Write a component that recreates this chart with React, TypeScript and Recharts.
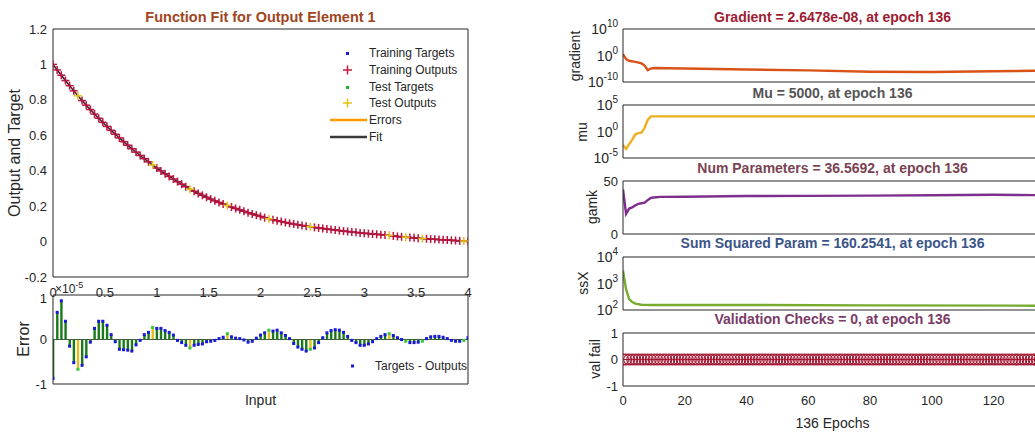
import {
  ComposedChart,
  LineChart,
  Line,
  Bar,
  Cell,
  XAxis,
  YAxis,
  ReferenceLine,
} from 'recharts'

// ---- function fit (left) ----
const inputStep = 0.04
const outputs = [
  1.0, 0.969, 0.939, 0.909, 0.88, 0.851, 0.823, 0.796, 0.77, 0.745,
  0.72, 0.696, 0.673, 0.65, 0.628, 0.606, 0.585, 0.564, 0.544, 0.524,
  0.505, 0.486, 0.468, 0.45, 0.432, 0.415, 0.399, 0.383, 0.368, 0.353,
  0.338, 0.324, 0.31, 0.296, 0.284, 0.272, 0.261, 0.25, 0.24, 0.23,
  0.221, 0.212, 0.204, 0.195, 0.187, 0.179, 0.171, 0.163, 0.156, 0.149,
  0.142, 0.135, 0.129, 0.123, 0.118, 0.113, 0.108, 0.103, 0.099, 0.095,
  0.091, 0.087, 0.084, 0.08, 0.077, 0.074, 0.071, 0.068, 0.065, 0.062,
  0.059, 0.057, 0.054, 0.052, 0.049, 0.047, 0.045, 0.043, 0.041, 0.039,
  0.037, 0.035, 0.032, 0.029, 0.027, 0.025, 0.023, 0.021, 0.019, 0.017,
  0.016, 0.014, 0.013, 0.011, 0.01, 0.009, 0.007, 0.006, 0.004, 0.003,
  0.001,
]
// errors in units of 1e-5
const errors = [
  -0.88, 0.61, 0.87, 0.41, -0.15, -0.52, -0.67, -0.58, -0.39, -0.06,
  0.25, 0.41, 0.41, 0.32, 0.11, -0.05, -0.22, -0.23, -0.24, -0.26,
  -0.12, -0.02, 0.11, 0.16, 0.27, 0.25, 0.25, 0.2, 0.16, 0.1,
  -0.02, -0.07, -0.13, -0.19, -0.13, -0.11, -0.1, -0.05, -0.04, -0.02,
  0.02, 0.05, 0.13, 0.06, 0.03, 0.02, -0.01, -0.06, -0.04, 0.03,
  0.1, 0.15, 0.21, 0.19, 0.21, 0.15, 0.09, 0.02, -0.09, -0.17,
  -0.22, -0.26, -0.22, -0.19, -0.07, 0.04, 0.15, 0.2, 0.22, 0.21,
  0.16, 0.07, -0.02, -0.07, -0.13, -0.13, -0.1, -0.05, 0.02, 0.07,
  0.11, 0.13, 0.09, 0.04, 0.0, -0.04, -0.07, -0.07, -0.06, -0.04,
  0.02, 0.06, 0.07, 0.07, 0.05, 0.02, -0.02, -0.04, -0.04, -0.02,
  0.04,
]
const testIdx = [6, 24, 33, 42, 52, 62, 81, 85, 89, 99]
const inputTicks = [0, 0.5, 1, 1.5, 2, 2.5, 3, 3.5, 4]
const fitTicks = [-0.2, 0, 0.2, 0.4, 0.6, 0.8, 1, 1.2]
const errTicks = [-1, 0, 1]

// ---- training state (right) ----
const gradEpochs = [0, 1, 2, 4, 5, 6, 7, 8, 9, 10, 20, 40, 60, 80, 100, 120, 136]
const gradValues = [3, 0.04, 0.01, 4e-3, 2e-3, 1e-3, 1.5e-4, 3e-6, 1.2e-5, 2e-5, 1.2e-5, 5e-6, 2.5e-6, 7e-7, 6e-7, 1.1e-6, 2e-6]
const muEpochs = [0, 1, 2, 3, 4, 5, 6, 7, 8, 9, 136]
const muValues = [3e-3, 5e-4, 4e-3, 3e-2, 0.3, 0.5, 0.6, 5, 150, 700, 700]
const gamkEpochs = [0, 1, 2, 3, 4, 5, 6, 7, 8, 9, 10, 12, 20, 40, 60, 80, 100, 120, 136]
const gamkValues = [42, 19, 24, 25, 27, 28.5, 29, 29.5, 32, 34, 34.5, 35, 35.2, 35.8, 36, 36.2, 36.5, 37, 36.6]
const ssxEpochs = [0, 1, 2, 3, 4, 6, 10, 40, 80, 136]
const ssxValues = [3100, 600, 260, 200, 175, 158, 155, 155, 150, 145]
const valFail = [
  0, 0, 0, 0, 0, 0, 0, 0, 0, 0, 0, 0, 0, 0, 0, 0, 0, 0, 0, 0,
  0, 0, 0, 0, 0, 0, 0, 0, 0, 0, 0, 0, 0, 0, 0, 0, 0, 0, 0, 0,
  0, 0, 0, 0, 0, 0, 0, 0, 0, 0, 0, 0, 0, 0, 0, 0, 0, 0, 0, 0,
  0, 0, 0, 0, 0, 0, 0, 0, 0, 0, 0, 0, 0, 0, 0, 0, 0, 0, 0, 0,
  0, 0, 0, 0, 0, 0, 0, 0, 0, 0, 0, 0, 0, 0, 0, 0, 0, 0, 0, 0,
  0, 0, 0, 0, 0, 0, 0, 0, 0, 0, 0, 0, 0, 0, 0, 0, 0, 0, 0, 0,
  0, 0, 0, 0, 0, 0, 0, 0, 0, 0, 0, 0, 0, 0, 0, 0, 0,
]
const epochTicks = [0, 20, 40, 60, 80, 100, 120]

const ink = '#262626'
const font = '"Liberation Sans", Arial, Helvetica, sans-serif'

const fitRows = outputs.map((out, i) => {
  const isTest = testIdx.includes(i)
  return {
    x: i * inputStep,
    out,
    train: isTest ? null : out,
    test: isTest ? out : null,
  }
})
const errRows = errors.map((err, i) => {
  const isTest = testIdx.includes(i)
  return {
    x: i * inputStep,
    err,
    isTest,
    trainErr: isTest ? null : err,
    testErr: isTest ? err : null,
  }
})
const zip = (xs: number[], ys: number[]) => xs.map((epoch, i) => ({ epoch, v: ys[i] }))

const plusDot = (color: string) => (props: any) => {
  const { cx, cy, value, index } = props
  if (value == null || cx == null || cy == null) return <g key={index} />
  return (
    <g key={index}>
      <line x1={cx - 4} y1={cy} x2={cx + 4} y2={cy} stroke={color} strokeWidth={1.5} />
      <line x1={cx} y1={cy - 4} x2={cx} y2={cy + 4} stroke={color} strokeWidth={1.5} />
    </g>
  )
}

const squareDot = (color: string, s: number) => (props: any) => {
  const { cx, cy, value, index } = props
  if (value == null || cx == null || cy == null) return <g key={index} />
  return <rect key={index} x={cx - s / 2} y={cy - s / 2} width={s} height={s} fill={color} />
}

function PowTick(props: any) {
  const { x, y, payload } = props
  const p = Math.round(Math.log10(payload.value))
  return (
    <text x={x} y={y + 5} textAnchor="end" fontSize={14} fill={ink} fontFamily={font}>
      10<tspan dy={-7} fontSize={10}>{p}</tspan>
    </text>
  )
}

const tickFont = { fontSize: 13, fill: ink, fontFamily: font }

// Inward tick marks on all four sides plus the closing box (MATLAB style).
// Mirrored axes need a non-zero size to be drawn, and a series bound to them.
function boxAxes(xDomain: [number, number], xTicks: number[], yDomain: [number, number], yTicks: number[], ySc: 'log' | 'linear', xKey: string, yKey: string) {
  return [
    <XAxis key="bx" xAxisId="bm" dataKey={xKey} orientation="bottom" mirror type="number" domain={xDomain} ticks={xTicks} height={1} tickSize={4} axisLine={false} stroke={ink} tick={false} allowDataOverflow />,
    <XAxis key="tx" xAxisId="top" dataKey={xKey} orientation="top" mirror type="number" domain={xDomain} ticks={xTicks} height={1} tickSize={4} stroke={ink} tick={false} allowDataOverflow />,
    <YAxis key="ly" yAxisId="lm" orientation="left" mirror type="number" scale={ySc} domain={yDomain} ticks={yTicks} width={1} tickSize={4} axisLine={false} stroke={ink} tick={false} allowDataOverflow />,
    <YAxis key="ry" yAxisId="right" orientation="right" mirror type="number" scale={ySc} domain={yDomain} ticks={yTicks} width={1} tickSize={4} stroke={ink} tick={false} allowDataOverflow />,
    <Line key="l1" xAxisId="bm" yAxisId="lm" dataKey={yKey} stroke="none" dot={false} activeDot={false} isAnimationActive={false} />,
    <Line key="l2" xAxisId="top" yAxisId="right" dataKey={yKey} stroke="none" dot={false} activeDot={false} isAnimationActive={false} />,
  ]
}

function Label({ x, y, children, size = 13, color = ink, bold = false, rotate = false }: any) {
  return (
    <div
      style={{
        position: 'absolute',
        left: x,
        top: y,
        transform: `translate(-50%, -50%)${rotate ? ' rotate(-90deg)' : ''}`,
        whiteSpace: 'nowrap',
        fontSize: size,
        fontWeight: bold ? 700 : 400,
        color,
        fontFamily: font,
        lineHeight: 1,
      }}
    >
      {children}
    </div>
  )
}

function LegendRow({ y, kind, color, text }: { y: number; kind: string; color: string; text: string }) {
  return (
    <div style={{ position: 'absolute', left: 326, top: y - 8, height: 16, display: 'flex', alignItems: 'center' }}>
      <svg width={42} height={16}>
        {kind === 'dot' && <rect x={20} y={7} width={3} height={3} fill={color} />}
        {kind === 'plus' && (
          <g stroke={color} strokeWidth={1.5}>
            <line x1={17} y1={8} x2={26} y2={8} />
            <line x1={21.5} y1={3.5} x2={21.5} y2={12.5} />
          </g>
        )}
        {kind === 'line' && <line x1={4} y1={8} x2={41} y2={8} stroke={color} strokeWidth={2.5} />}
      </svg>
      <span style={{ fontSize: 12, color: ink, fontFamily: font, marginLeft: 1 }}>{text}</span>
    </div>
  )
}

type PanelProps = {
  top: number
  data: { epoch: number; v: number }[]
  color: string
  log?: boolean
  domain: [number, number]
  ticks: number[]
  last?: boolean
  circles?: boolean
}

function StatePanel({ top, data, color, log, domain, ticks, last, circles }: PanelProps) {
  const bottomH = last ? 47 : 10
  return (
    <div style={{ position: 'absolute', left: 560, top: top - 10 }}>
      <LineChart width={490} height={10 + 53 + bottomH} data={data} margin={{ top: 10, right: 7, left: 0, bottom: 0 }}>
        <XAxis
          dataKey="epoch"
          type="number"
          domain={[0, 136]}
          ticks={epochTicks}
          height={bottomH}
          tickLine={false}
          tickSize={6}
          tickMargin={4}
          stroke={ink}
          tick={last ? tickFont : false}
          allowDataOverflow
        />
        <YAxis
          type="number"
          scale={log ? 'log' : 'linear'}
          domain={domain}
          ticks={ticks}
          width={63}
          tickLine={false}
          tickSize={5}
          tickMargin={0}
          stroke={ink}
          tick={log ? <PowTick /> : tickFont}
          allowDataOverflow
        />
        {boxAxes([0, 136], epochTicks, domain, ticks, log ? 'log' : 'linear', 'epoch', 'v')}
        <Line
          dataKey="v"
          type="linear"
          stroke={color}
          strokeWidth={circles ? 1 : 2.4}
          dot={circles ? { r: 5.5, stroke: color, fill: 'none', strokeWidth: 1.1 } : false}
          activeDot={false}
          isAnimationActive={false}
        />
      </LineChart>
    </div>
  )
}

export default function App() {
  return (
    <div
      style={{
        position: 'fixed',
        left: 0,
        top: 0,
        width: 1035,
        height: 433,
        overflow: 'hidden',
        background: '#fff',
        fontFamily: font,
      }}
    >
      {/* Function fit */}
      <div style={{ position: 'absolute', left: 0, top: 0 }}>
        <ComposedChart width={480} height={310} data={fitRows} margin={{ top: 29, right: 12, left: 0, bottom: 0 }}>
          <XAxis
            dataKey="x"
            type="number"
            domain={[0, 4]}
            ticks={inputTicks}
            height={33}
            tickLine={false}
            tickSize={6}
            tickMargin={5}
            stroke={ink}
            tick={tickFont}
            allowDataOverflow
          />
          <YAxis
            type="number"
            domain={[-0.2, 1.2]}
            ticks={fitTicks}
            width={53}
            tickLine={false}
            tickSize={6}
            tickMargin={0}
            stroke={ink}
            tick={tickFont}
            tickFormatter={(v: number) => String(Number(v.toFixed(1)))}
            allowDataOverflow
          />
          {boxAxes([0, 4], inputTicks, [-0.2, 1.2], fitTicks, 'linear', 'x', 'out')}
          <Line dataKey="out" stroke="none" dot={squareDot('#1a1ae0', 2)} activeDot={false} isAnimationActive={false} />
          <Line dataKey="out" type="monotone" stroke="#2a2a2a" strokeWidth={1.5} dot={false} activeDot={false} isAnimationActive={false} />
          <Line dataKey="train" stroke="none" dot={plusDot('#b8143c')} activeDot={false} isAnimationActive={false} />
          <Line dataKey="test" stroke="none" dot={plusDot('#e2c214')} activeDot={false} isAnimationActive={false} />
        </ComposedChart>
      </div>

      {/* Error stems */}
      <div style={{ position: 'absolute', left: 0, top: 290 }}>
        <ComposedChart width={480} height={130} data={errRows} margin={{ top: 5, right: 12, left: 0, bottom: 0 }}>
          <XAxis dataKey="x" type="number" domain={[0, 4]} ticks={inputTicks} height={36} tickLine={false} stroke={ink} tick={false} allowDataOverflow />
          <YAxis type="number" domain={[-1, 1]} ticks={errTicks} width={53} tickLine={false} tickSize={6} tickMargin={0} stroke={ink} tick={tickFont} allowDataOverflow />
          {boxAxes([0, 4], inputTicks, [-1, 1], errTicks, 'linear', 'x', 'err')}
          <ReferenceLine y={0} stroke="#3f5f3f" strokeWidth={1} />
          <Bar dataKey="err" barSize={2.4} isAnimationActive={false}>
            {errRows.map((r, i) => (
              <Cell key={i} fill={r.isTest ? '#e0bf1c' : '#1a7a1a'} />
            ))}
          </Bar>
          <Line dataKey="trainErr" stroke="none" dot={squareDot('#1a1ad6', 3)} activeDot={false} isAnimationActive={false} />
          <Line dataKey="testErr" stroke="none" dot={squareDot('#38c838', 3)} activeDot={false} isAnimationActive={false} />
        </ComposedChart>
      </div>

      <Label x={260.5} y={17} size={14.5} bold color="#a0461e">Function Fit for Output Element 1</Label>
      <Label x={15} y={153} size={16} rotate>Output and Target</Label>
      <Label x={24} y={339} size={16} rotate>Error</Label>
      <Label x={260.5} y={400} size={14}>Input</Label>
      <div style={{ position: 'absolute', left: 55, top: 281, fontSize: 12, color: ink, fontFamily: font, lineHeight: 1 }}>
        ×10<sup style={{ fontSize: 9 }}>-5</sup>
      </div>

      <LegendRow y={53} kind="dot" color="#1a1ae0" text="Training Targets" />
      <LegendRow y={70} kind="plus" color="#c4183c" text="Training Outputs" />
      <LegendRow y={87} kind="dot" color="#20b020" text="Test Targets" />
      <LegendRow y={103} kind="plus" color="#e2c214" text="Test Outputs" />
      <LegendRow y={120} kind="line" color="#ff9a00" text="Errors" />
      <LegendRow y={137} kind="line" color="#3a3a3a" text="Fit" />

      <div style={{ position: 'absolute', left: 349, top: 358, height: 16, display: 'flex', alignItems: 'center' }}>
        <svg width={26} height={16}>
          <rect x={2} y={6.5} width={3} height={3} fill="#1a1ad6" />
        </svg>
        <span style={{ fontSize: 12, color: ink, fontFamily: font }}>Targets - Outputs</span>
      </div>

      {/* Training state panels */}
      <StatePanel top={29} data={zip(gradEpochs, gradValues)} color="#d95319" log domain={[1e-10, 1e10]} ticks={[1e-10, 1, 1e10]} />
      <StatePanel top={105} data={zip(muEpochs, muValues)} color="#edb120" log domain={[1e-5, 1e5]} ticks={[1e-5, 1, 1e5]} />
      <StatePanel top={181} data={zip(gamkEpochs, gamkValues)} color="#7e2f8e" domain={[0, 50]} ticks={[0, 50]} />
      <StatePanel top={257} data={zip(ssxEpochs, ssxValues)} color="#77ac30" log domain={[100, 10000]} ticks={[100, 1000, 10000]} />
      <StatePanel top={333} data={valFail.map((v, i) => ({ epoch: i, v }))} color="#a2142f" domain={[-1, 1]} ticks={[-1, 0, 1]} last circles />

      <Label x={832.5} y={17} size={14} bold color="#9e1b32">Gradient = 2.6478e-08, at epoch 136</Label>
      <Label x={832.5} y={93} size={14} bold color="#555555">Mu = 5000, at epoch 136</Label>
      <Label x={832.5} y={168} size={14} bold color="#7a4352">Num Parameters = 36.5692, at epoch 136</Label>
      <Label x={832.5} y={243} size={14} bold color="#3b5488">Sum Squared Param = 160.2541, at epoch 136</Label>
      <Label x={832.5} y={319} size={14} bold color="#7a3b66">Validation Checks = 0, at epoch 136</Label>

      <Label x={575} y={56} size={14} rotate>gradient</Label>
      <Label x={582} y={132} size={14} rotate>mu</Label>
      <Label x={592} y={207} size={14} rotate>gamk</Label>
      <Label x={583} y={283} size={14} rotate>ssX</Label>
      <Label x={595} y={359} size={14} rotate>val fail</Label>
      <Label x={832.5} y={423} size={14}>136 Epochs</Label>
    </div>
  )
}
